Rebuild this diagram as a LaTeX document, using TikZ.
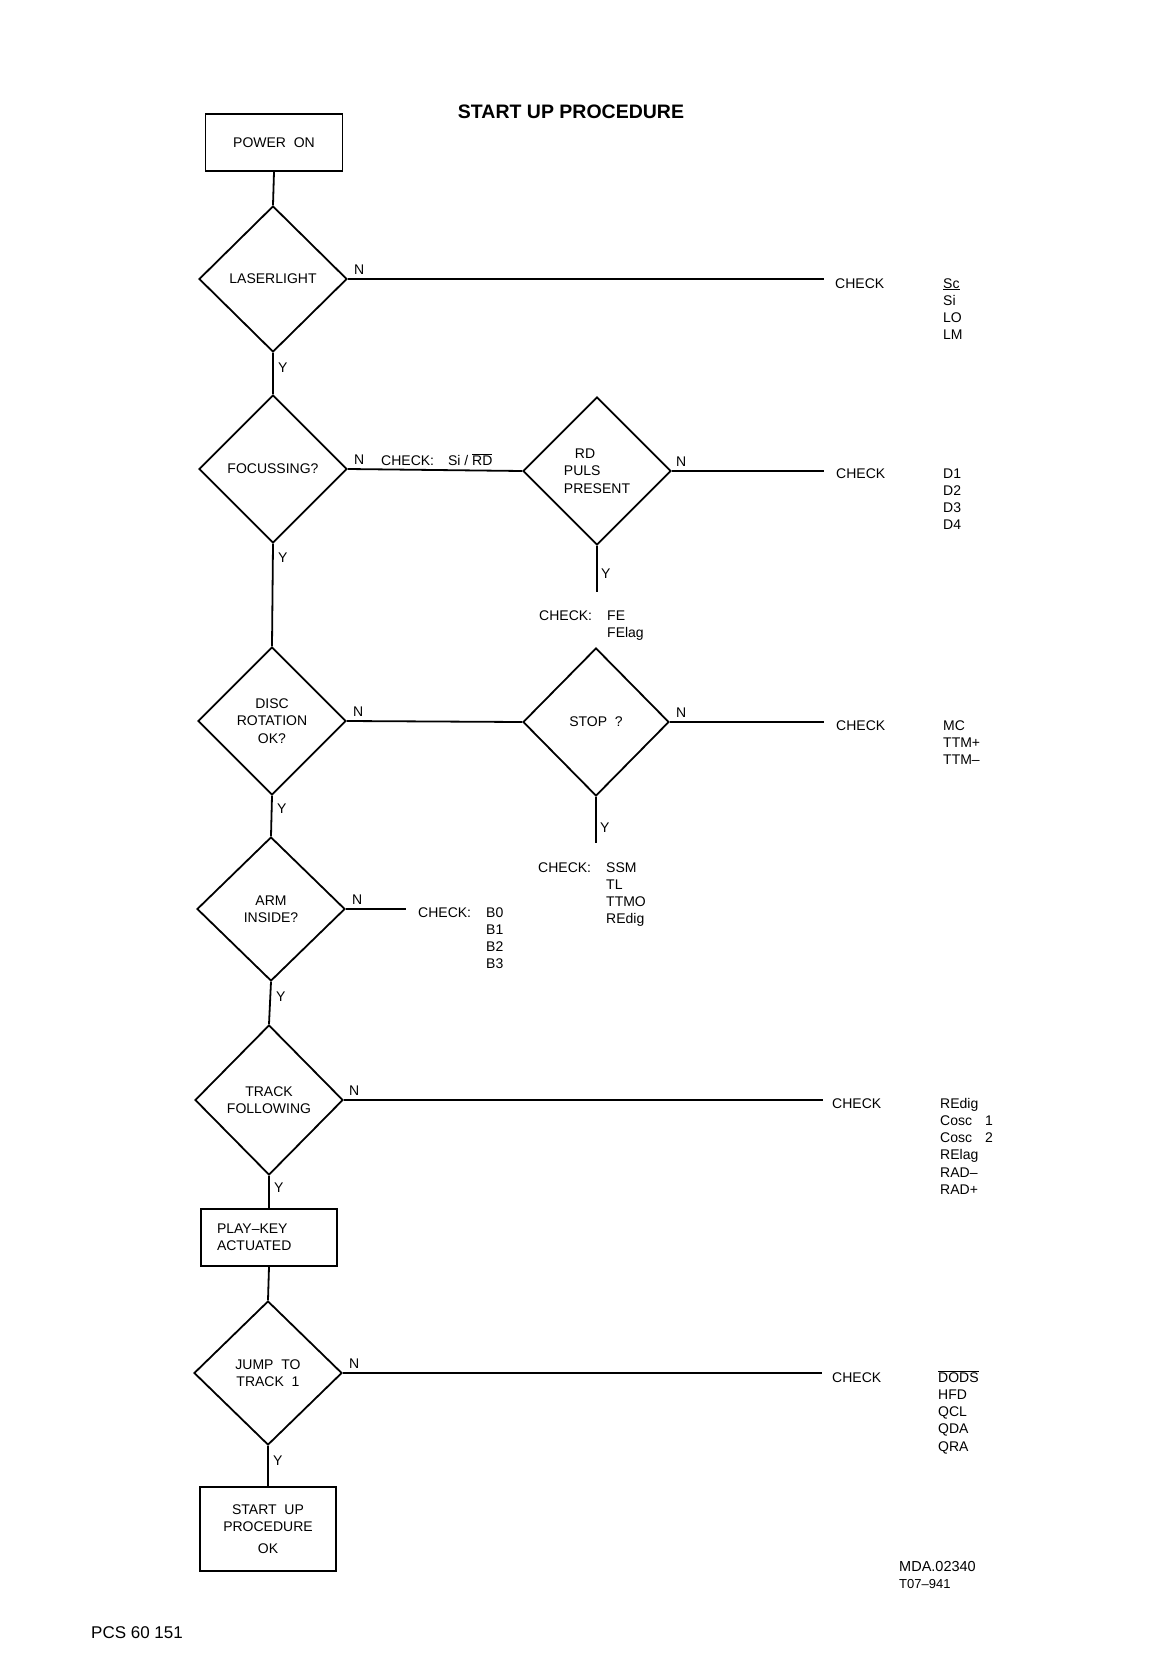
\documentclass[tikz,border=0pt]{standalone}
\usepackage{fontspec}
\setmainfont{Liberation Sans}
\usetikzlibrary{shapes.geometric}
\newcommand{\myover}[1]{$\overline{\mbox{#1}}$}
\newcommand{\mylist}[1]{\begin{tabular}[t]{@{}l@{}}#1\end{tabular}}
\begin{document}
\begin{tikzpicture}[x=1pt,y=-1pt,
  every node/.style={font=\fontsize{14}{17.3}\selectfont, inner sep=0pt},
  flow/.style={line width=1.8pt},
  box/.style={draw, line width=1.8pt, rectangle, align=center},
  dia/.style={draw, line width=1.8pt, diamond, aspect=1, minimum width=148pt, minimum height=148pt, align=center},
  lbl/.style={anchor=base west},
]
\fill[white] (0,0) rectangle (1174,1672);
\useasboundingbox (0,0) rectangle (1174,1672);

% title
\node[font=\fontsize{19.5}{22}\selectfont\bfseries, anchor=base] (title) at (571,119) {START UP PROCEDURE};

% main column
\node[box, minimum width=137pt, minimum height=57pt] (power) at (274,142.5) {POWER\ \ ON};
\node[dia, minimum height=146pt] (laser) at (273,279) {LASERLIGHT};
\node[dia] (focus) at (273,469) {FOCUSSING?};
\node[dia, align=left] (rd) at (597,471) {\hspace*{11pt}RD\\PULS\\PRESENT};
\node[dia] (disc) at (272,721) {DISC\\ROTATION\\OK?};
\node[dia, minimum width=146pt] (stop) at (596,722) {STOP\ \ ?};
\node[dia, minimum height=144pt] (arm) at (271,909) {ARM\\INSIDE?};
\node[dia, minimum height=150pt] (track) at (269,1100) {TRACK\\FOLLOWING};
\node[box, minimum height=57pt, text width=104pt, inner xsep=16pt, align=left] (play) at (269,1237.5) {PLAY–KEY\\ACTUATED};
\node[dia, minimum height=144pt] (jump) at (268,1373) {JUMP\ \ TO\\TRACK\ \ 1};
\node[box, minimum width=136pt, minimum height=84pt] (ok) at (268,1529) {START\ \ UP\\PROCEDURE\\[5pt]OK};

% free ends
\coordinate (e1) at (824,279);
\coordinate (e2) at (824,471);
\coordinate (e3) at (824,722);
\coordinate (e4) at (823,1100);
\coordinate (e5) at (822,1373);
\coordinate (e6) at (597,592);
\coordinate (e7) at (596,843);
\coordinate (e8) at (406,909);

% vertical connectors
\draw[flow] (power.south) -- (laser.north);
\draw[flow] (laser.south) -- (focus.north);
\draw[flow] (focus.south) -- (disc.north);
\draw[flow] (disc.south) -- (arm.north);
\draw[flow] (arm.south) -- (track.north);
\draw[flow] (track.south) -- (play.north);
\draw[flow] (play.south) -- (jump.north);
\draw[flow] (jump.south) -- (ok.north);
\draw[flow] (rd.south) -- (e6);
\draw[flow] (stop.south) -- (e7);

% horizontal connectors
\draw[flow] (laser.east) -- (e1);
\draw[flow] (focus.east) -- (rd.west);
\draw[flow] (rd.east) -- (e2);
\draw[flow] (disc.east) -- (stop.west);
\draw[flow] (stop.east) -- (e3);
\draw[flow] (arm.east) -- (e8);
\draw[flow] (track.east) -- (e4);
\draw[flow] (jump.east) -- (e5);

% N labels
\node[lbl] (n1) at ([xshift=6pt,yshift=5pt]laser.east) {N};
\node[lbl] (n2) at ([xshift=6pt,yshift=5pt]focus.east) {N};
\node[lbl] (n3) at ([xshift=4pt,yshift=5pt]rd.east) {N};
\node[lbl] (n4) at ([xshift=6pt,yshift=5pt]disc.east) {N};
\node[lbl] (n5) at ([xshift=6pt,yshift=5pt]stop.east) {N};
\node[lbl] (n6) at ([xshift=6pt,yshift=5pt]arm.east) {N};
\node[lbl] (n7) at ([xshift=5pt,yshift=5pt]track.east) {N};
\node[lbl] (n8) at ([xshift=6pt,yshift=5pt]jump.east) {N};

% Y labels
\node[lbl] (y1) at ([xshift=5pt,yshift=-20pt]laser.south) {Y};
\node[lbl] (y2) at ([xshift=5pt,yshift=-19pt]focus.south) {Y};
\node[lbl] (y3) at ([xshift=5pt,yshift=-18pt]disc.south) {Y};
\node[lbl] (y4) at ([xshift=5pt,yshift=-20pt]arm.south) {Y};
\node[lbl] (y5) at ([xshift=5pt,yshift=-17pt]track.south) {Y};
\node[lbl] (y6) at ([xshift=5pt,yshift=-20pt]jump.south) {Y};
\node[lbl] (y7) at ([xshift=4pt,yshift=-33pt]rd.south) {Y};
\node[lbl] (y8) at ([xshift=4pt,yshift=-36pt]stop.south) {Y};

% check texts on lines
\node[lbl] (cfoc) at (381,465) {CHECK:\hspace{14pt}Si / \myover{RD}};

\node[lbl] (ck1) at (835,288) {CHECK};
\node[lbl] (l1) at (943,288) {\mylist{\underline{Sc}\\Si\\LO\\LM}};

\node[lbl] (ck2) at (836,478) {CHECK};
\node[lbl] (l2) at (943,478) {\mylist{D1\\D2\\D3\\D4}};

\node[lbl] (ck3) at (836,730) {CHECK};
\node[lbl] (l3) at (943,730) {\mylist{MC\\TTM+\\TTM–}};

\node[lbl] (ck4) at (832,1108) {CHECK};
\node[lbl] (l4) at (940,1108) {\mylist{REdig\\Cosc\hspace{13pt}1\\Cosc\hspace{13pt}2\\RElag\\RAD–\\RAD+}};

\node[lbl] (ck5) at (832,1382) {CHECK};
\node[lbl] (l5) at (938,1382) {\mylist{\myover{DODS}\\HFD\\QCL\\QDA\\QRA}};

\node[lbl] (ck6) at (539,620) {CHECK:};
\node[lbl] (l6) at (607,620) {\mylist{FE\\FElag}};

\node[lbl] (ck7) at (538,872) {CHECK:};
\node[lbl] (l7) at (606,872) {\mylist{SSM\\TL\\TTMO\\REdig}};

\node[lbl] (ck8) at (418,917) {CHECK:};
\node[lbl] (l8) at (486,917) {\mylist{B0\\B1\\B2\\B3}};

% footer
\node[lbl, font=\fontsize{14.5}{17}\selectfont] (mda) at (899,1571) {MDA.02340};
\node[lbl, font=\fontsize{13}{17}\selectfont] (t07) at (899,1588) {T07–941};
\node[lbl, font=\fontsize{17}{20}\selectfont] (pcs) at (91,1638) {PCS 60 151};
\end{tikzpicture}
\end{document}
